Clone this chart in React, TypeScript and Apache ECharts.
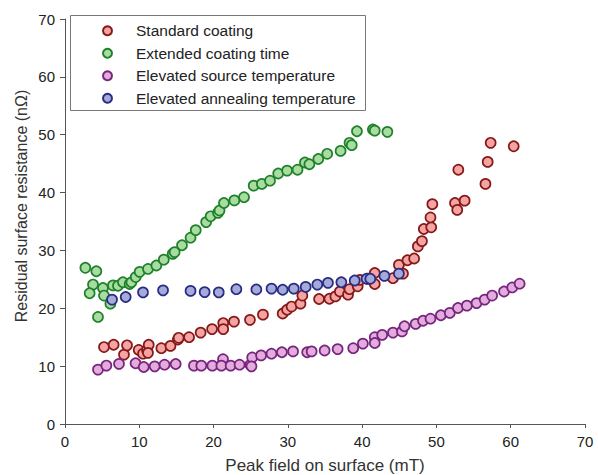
import React, { useEffect, useRef } from "react";
import * as echarts from "echarts";

const seriesNames = [
  "Standard coating",
  "Extended coating time",
  "Elevated source temperature",
  "Elevated annealing temperature",
];

const xAxisTicks = [0, 10, 20, 30, 40, 50, 60, 70];
const yAxisTicks = [0, 10, 20, 30, 40, 50, 60, 70];

const standardCoating: number[][] = [
  [5.25, 13.3], [6.55, 13.7], [7.94, 12.0], [8.35, 13.6], [9.92, 12.8], [10.5, 12.15],
  [11.04, 12.8], [11.27, 13.7], [11.17, 12.3], [12.97, 13.1], [14.2, 13.5], [15.2, 14.6],
  [15.3, 14.9], [16.7, 15.0], [18.26, 15.8], [19.8, 16.4], [21.3, 17.45], [21.3, 16.4],
  [22.75, 17.7], [24.9, 18.0], [26.65, 18.9], [29.3, 19.1], [29.9, 19.75], [30.5, 20.3],
  [31.7, 20.8], [31.95, 22.2], [34.2, 21.6], [35.6, 21.65], [36.4, 22.05], [37.0, 22.9],
  [38.1, 22.35], [38.3, 23.3], [39.4, 23.8], [39.7, 24.9], [40.8, 25.1], [41.7, 26.1],
  [41.7, 24.2], [44.15, 25.2], [45.5, 26.0], [44.95, 27.5], [46.1, 28.3], [47.0, 28.6],
  [47.5, 30.7], [48.05, 31.6], [48.3, 33.7], [49.3, 34.0], [49.2, 35.7], [49.45, 38.0],
  [52.5, 38.2], [52.8, 37.0], [53.8, 38.6], [52.95, 43.95], [56.6, 41.5], [56.9, 45.3],
  [57.3, 48.6], [60.4, 48.0],
];

const extendedCoating: number[][] = [
  [2.74, 27.0], [4.22, 26.4], [3.77, 24.1], [3.32, 22.6], [5.11, 23.5], [5.25, 22.2],
  [4.44, 18.5], [6.11, 20.8], [6.46, 23.95], [7.13, 23.9], [7.8, 24.5], [8.7, 24.2],
  [8.94, 24.5], [9.52, 25.4], [10.05, 26.3], [11.17, 26.8], [12.3, 27.4], [13.3, 28.4],
  [14.5, 29.4], [14.76, 29.7], [15.75, 30.9], [16.9, 32.2], [17.6, 33.5], [19.0, 34.9],
  [19.6, 35.9], [20.6, 36.5], [20.8, 36.9], [21.4, 38.2], [22.8, 38.65], [24.1, 39.2],
  [25.4, 41.2], [26.5, 41.5], [27.6, 42.05], [28.7, 43.3], [29.9, 43.8], [31.3, 43.95],
  [32.3, 45.2], [32.9, 44.9], [34.1, 45.8], [35.3, 46.7], [37.1, 47.2], [38.3, 48.6],
  [38.6, 48.2], [39.3, 50.6], [41.45, 50.9], [41.7, 50.7], [43.4, 50.5],
];

const elevatedSource: number[][] = [
  [4.44, 9.4], [5.57, 10.1], [7.27, 10.4], [9.5, 10.5], [10.6, 9.85], [12.07, 9.96],
  [13.4, 10.25], [14.9, 10.37], [17.36, 10.08], [18.35, 10.08], [19.84, 10.08], [21.27, 11.2],
  [21.05, 10.08], [22.3, 10.08], [23.5, 10.25], [24.95, 10.25], [25.2, 11.5], [25.1, 9.96],
  [26.4, 11.86], [27.8, 12.15], [29.2, 12.4], [30.7, 12.55], [32.6, 12.4], [33.2, 12.55],
  [34.95, 12.7], [36.7, 12.95], [38.8, 13.1], [40.1, 13.9], [41.7, 15.0], [41.7, 14.0],
  [42.7, 15.4], [44.15, 15.8], [45.36, 16.0], [45.7, 16.9], [47.2, 17.3], [48.2, 17.85],
  [49.2, 18.2], [50.6, 18.8], [51.8, 19.2], [52.9, 20.05], [54.1, 20.45], [55.4, 20.9],
  [56.5, 21.5], [57.5, 22.2], [59.1, 22.9], [60.2, 23.6], [61.2, 24.25],
];

const elevatedAnnealing: number[][] = [
  [6.33, 21.5], [8.17, 21.95], [10.5, 22.75], [13.2, 23.1], [16.9, 23.0], [18.8, 22.8],
  [20.7, 22.75], [23.07, 23.3], [25.76, 23.25], [27.8, 23.4], [29.3, 23.2], [30.8, 23.4],
  [32.4, 23.7], [33.97, 24.1], [35.4, 24.4], [37.2, 24.5], [39.0, 24.8], [40.6, 25.1],
  [41.1, 25.1], [43.0, 25.6], [44.95, 26.0],
];

const fills = ["#f5a4a4", "#a9dca1", "#e4acdd", "#a5aad9"];
const borders = ["#861818", "#1f822b", "#76267e", "#282c84"];

const FONT = "'Liberation Sans', Arial, sans-serif";

export default function App() {
  const ref = useRef<HTMLDivElement>(null);

  useEffect(() => {
    if (!ref.current) return;
    const chart = echarts.init(ref.current, undefined, { renderer: "svg" });
    const datasets = [standardCoating, extendedCoating, elevatedSource, elevatedAnnealing];

    chart.setOption({
      animation: false,
      backgroundColor: "#ffffff",
      textStyle: { fontFamily: FONT },
      grid: { left: 65, right: 13, top: 19, bottom: 51, containLabel: false, outerBoundsMode: "none" },
      graphic: [
        {
          type: "rect",
          z: 1,
          shape: { x: 70.5, y: 15.5, width: 295, height: 95 },
          style: { fill: "#ffffff", stroke: "#777777", lineWidth: 1 },
        },
        {
          type: "text",
          z: 3,
          x: 21,
          y: 206,
          rotation: Math.PI / 2,
          style: {
            text: "Residual surface resistance (n\u03A9)",
            font: `16px ${FONT}`,
            fill: "#333333",
            textAlign: "center",
            textVerticalAlign: "middle",
          },
        },
      ],
      legend: {
        show: true,
        z: 5,
        orient: "vertical",
        left: 102,
        top: 22.7,
        padding: 0,
        itemGap: 6.5,
        itemWidth: 9,
        itemHeight: 9,
        icon: "circle",
        data: seriesNames,
        textStyle: {
          fontFamily: FONT,
          fontSize: 15.5,
          lineHeight: 16,
          color: "#222222",
          padding: [0, 0, 0, 19],
        },
      },
      xAxis: {
        type: "value",
        min: 0,
        max: 70,
        interval: 10,
        name: "Peak field on surface (mT)",
        nameLocation: "middle",
        nameGap: 33,
        nameTextStyle: { fontFamily: FONT, fontSize: 17, color: "#333333" },
        axisLine: { show: true, onZero: false, lineStyle: { color: "#555555", width: 1 } },
        axisTick: { show: true, inside: false, length: 4, lineStyle: { color: "#555555" } },
        axisLabel: {
          margin: 10,
          fontFamily: FONT,
          fontSize: 15,
          color: "#222222",
          formatter: (v: number) => (xAxisTicks.includes(v) ? String(v) : ""),
        },
        splitLine: { show: false },
      },
      yAxis: {
        type: "value",
        min: 0,
        max: 70,
        interval: 10,
        axisLine: { show: true, onZero: false, lineStyle: { color: "#555555", width: 1 } },
        axisTick: { show: true, inside: false, length: 5, lineStyle: { color: "#555555" } },
        axisLabel: {
          margin: 10,
          fontFamily: FONT,
          fontSize: 15,
          color: "#222222",
          formatter: (v: number) => (yAxisTicks.includes(v) ? String(v) : ""),
        },
        splitLine: { show: false },
      },
      series: seriesNames.map((name, i) => ({
        name,
        type: "scatter",
        data: datasets[i],
        symbol: "circle",
        symbolSize: 10,
        z: 2,
        itemStyle: {
          color: fills[i],
          borderColor: borders[i],
          borderWidth: 1.7,
          opacity: 1,
        },
        emphasis: { disabled: true },
      })),
    });

    return () => chart.dispose();
  }, []);

  return (
    <div
      ref={ref}
      style={{ position: "fixed", left: 0, top: 0, width: 598, height: 475 }}
    />
  );
}
